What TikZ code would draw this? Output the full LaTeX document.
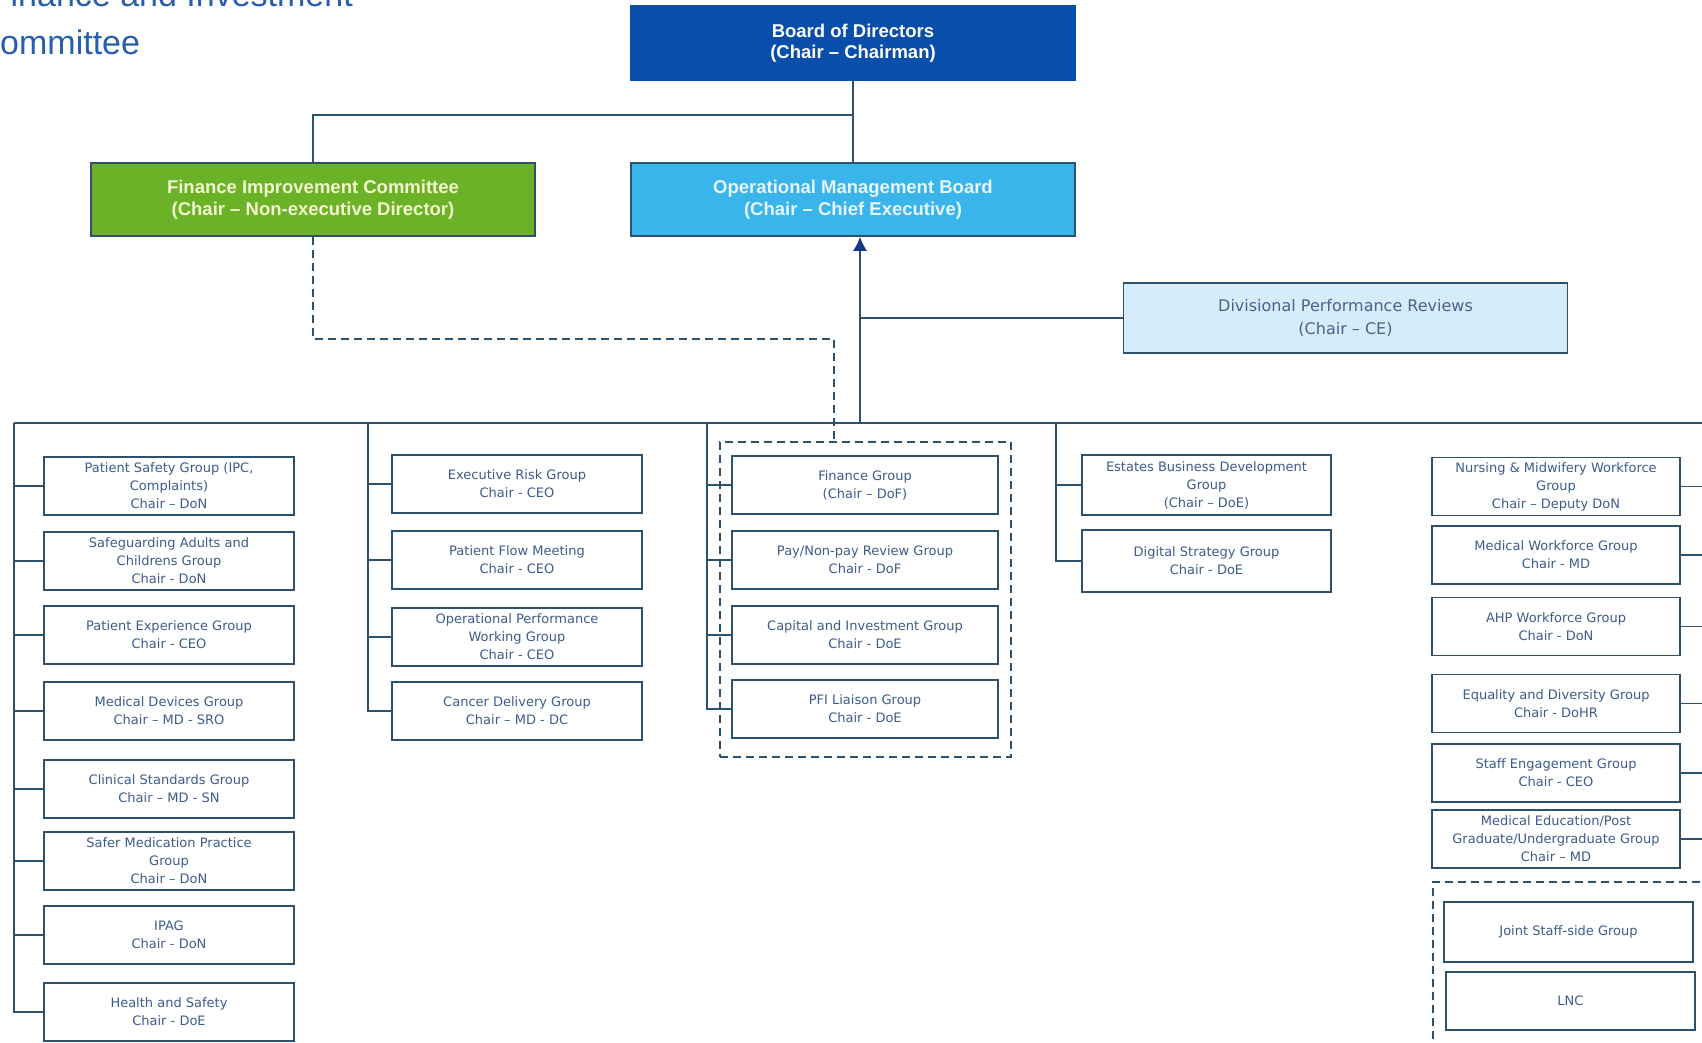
\documentclass[tikz,border=0pt]{standalone}
\usepackage{fontspec}
\setmainfont{Liberation Sans}
\newfontfamily\grpfont{DejaVu Sans}
\usetikzlibrary{arrows.meta}

\definecolor{boardblue}{RGB}{10,78,172}
\definecolor{ombblue}{RGB}{58,181,236}
\definecolor{ficgreen}{RGB}{108,178,40}
\definecolor{dprblue}{RGB}{214,236,250}
\definecolor{linecol}{RGB}{45,82,112}
\definecolor{grptext}{RGB}{60,92,140}
\definecolor{dprtext}{RGB}{70,100,140}
\definecolor{ombtext}{RGB}{232,245,252}
\definecolor{fictext}{RGB}{242,247,205}
\definecolor{titleblue}{RGB}{40,95,170}
\definecolor{arrowcol}{RGB}{25,55,135}

\begin{document}
\begin{tikzpicture}[x=1pt,y=-1pt,
  link/.style={draw=linecol,line width=1.6pt},
  dashlink/.style={draw=linecol,line width=1.6pt,dash pattern=on 8pt off 5pt},
  head/.style={draw=linecol,line width=1.6pt,minimum width=444pt,minimum height=73pt,
    inner sep=0pt,align=center,font=\fontsize{18.5}{21.5}\selectfont\bfseries},
  grp/.style={draw=linecol,line width=1.6pt,fill=white,minimum width=250pt,minimum height=58pt,
    inner sep=0pt,align=center,text=grptext,font=\grpfont\fontsize{13}{18}\selectfont},
  grpframe/.style={dashlink,inner sep=0pt}]
  \useasboundingbox (0,0) rectangle (1702,1043);
  \clip (0,0) rectangle (1702,1043);

  % Title (cut off by the page edge)
  \node[anchor=base east,inner sep=0pt,text=titleblue,font=\fontsize{34}{40}\selectfont] (title1) at (353,7) {Finance and Investment};
  \node[anchor=base west,inner sep=0pt,text=titleblue,font=\fontsize{34}{40}\selectfont] (title2) at (-24.5,55) {Committee};

  % Boards and committees
  \node[head,fill=boardblue,draw=boardblue,text=white,minimum height=74pt] (board) at (853,43) {Board of Directors\\(Chair – Chairman)};
  \node[head,fill=ombblue,text=ombtext] (omb) at (853,199.5) {Operational Management Board\\(Chair – Chief Executive)};
  \node[head,fill=ficgreen,text=fictext] (fic) at (313,199.5) {Finance Improvement Committee\\(Chair – Non-executive Director)};
  \node[head,fill=dprblue,text=dprtext,minimum height=70pt,font=\grpfont\fontsize{16}{23}\selectfont] (dpr) at (1345.5,318) {Divisional Performance Reviews\\(Chair – CE)};

  % Dashed frames
  \node[grpframe,minimum width=291pt,minimum height=315pt] (finframe) at (865.5,599.5) {};
  \node[grpframe,minimum width=294pt,minimum height=186pt] (staffframe) at (1580,975) {};

  % First column
  \node[grp] (psg) at (169,486) {Patient Safety Group  (IPC,\\Complaints)\\Chair – DoN};
  \node[grp] (sag) at (169,561) {Safeguarding Adults and\\Childrens Group\\Chair - DoN};
  \node[grp] (peg) at (169,635) {Patient Experience Group\\Chair - CEO};
  \node[grp] (mdg) at (169,711) {Medical Devices Group\\Chair – MD  - SRO};
  \node[grp] (csg) at (169,789) {Clinical Standards Group\\Chair – MD  - SN};
  \node[grp] (smp) at (169,861) {Safer Medication Practice\\Group\\Chair – DoN};
  \node[grp] (ipag) at (169,935) {IPAG\\Chair - DoN};
  \node[grp] (hsg) at (169,1012) {Health and Safety\\Chair - DoE};

  % Second column
  \node[grp] (erg) at (517,484) {Executive Risk Group\\Chair - CEO};
  \node[grp] (pfm) at (517,560) {Patient Flow Meeting\\Chair - CEO};
  \node[grp] (opw) at (517,637) {Operational Performance\\Working Group\\Chair - CEO};
  \node[grp] (cdg) at (517,711) {Cancer Delivery  Group\\Chair – MD  - DC};

  % Finance groups
  \node[grp,minimum width=266pt] (fin) at (865,485) {Finance Group\\(Chair – DoF)};
  \node[grp,minimum width=266pt] (pay) at (865,560) {Pay/Non-pay  Review  Group\\Chair - DoF};
  \node[grp,minimum width=266pt] (cap) at (865,635) {Capital and Investment Group\\Chair - DoE};
  \node[grp,minimum width=266pt] (pfi) at (865,709) {PFI Liaison Group\\Chair - DoE};

  % Estates and digital
  \node[grp,minimum width=249pt,minimum height=60pt] (ebd) at (1206.5,485) {Estates Business Development\\Group\\(Chair – DoE)};
  \node[grp,minimum width=249pt,minimum height=62pt] (dsg) at (1206.5,561) {Digital Strategy Group\\Chair - DoE};

  % Workforce column
  \node[grp,minimum width=248pt] (nmw) at (1556,486.5) {Nursing \& Midwifery  Workforce\\Group\\Chair – Deputy DoN};
  \node[grp,minimum width=248pt] (mwg) at (1556,555) {Medical Workforce Group\\Chair - MD};
  \node[grp,minimum width=248pt] (ahp) at (1556,626.5) {AHP Workforce Group\\Chair - DoN};
  \node[grp,minimum width=248pt] (edg) at (1556,703.5) {Equality and Diversity Group\\Chair - DoHR};
  \node[grp,minimum width=248pt] (seg) at (1556,773) {Staff Engagement Group\\Chair - CEO};
  \node[grp,minimum width=248pt] (med) at (1556,839) {Medical Education/Post\\Graduate/Undergraduate  Group\\Chair – MD};
  \node[grp,minimum width=249pt,minimum height=60pt] (jsg) at (1568.5,932) {Joint Staff-side Group};
  \node[grp,minimum width=249pt] (lnc) at (1570.5,1001) {LNC};

  % Junctions
  \coordinate (split) at (853,115);
  \coordinate (hub) at (860,423);
  \coordinate (dl) at (834,339);
  \coordinate (c1) at (14,423);
  \coordinate (c2) at (368,423);
  \coordinate (c3) at (707,423);
  \coordinate (c4) at (1056,423);
  \coordinate (c5) at (1712,423);

  % Connectors
  \draw[link] (board.south) -- (omb.north);
  \draw[link] (split) -| (fic.north);
  \draw[link] (c1) -- (c5);
  \draw[link,-{Latex[length=14pt,width=14pt,color=arrowcol]}] (hub) -- (hub |- omb.south);
  \draw[link] (dpr.west) -- (dpr.west -| hub);
  \draw[dashlink] (fic.south) |- (dl) -- (dl |- finframe.north);
  \draw[link] (c1) |- (psg.west) (c1) |- (sag.west) (c1) |- (peg.west) (c1) |- (mdg.west)
    (c1) |- (csg.west) (c1) |- (smp.west) (c1) |- (ipag.west) (c1) |- (hsg.west);
  \draw[link] (c2) |- (erg.west) (c2) |- (pfm.west) (c2) |- (opw.west) (c2) |- (cdg.west);
  \draw[link] (c3) |- (fin.west) (c3) |- (pay.west) (c3) |- (cap.west) (c3) |- (pfi.west);
  \draw[link] (c4) |- (ebd.west) (c4) |- (dsg.west);
  \draw[link] (c5) |- (nmw.east) (c5) |- (mwg.east) (c5) |- (ahp.east) (c5) |- (edg.east)
    (c5) |- (seg.east) (c5) |- (med.east);
\end{tikzpicture}
\end{document}
